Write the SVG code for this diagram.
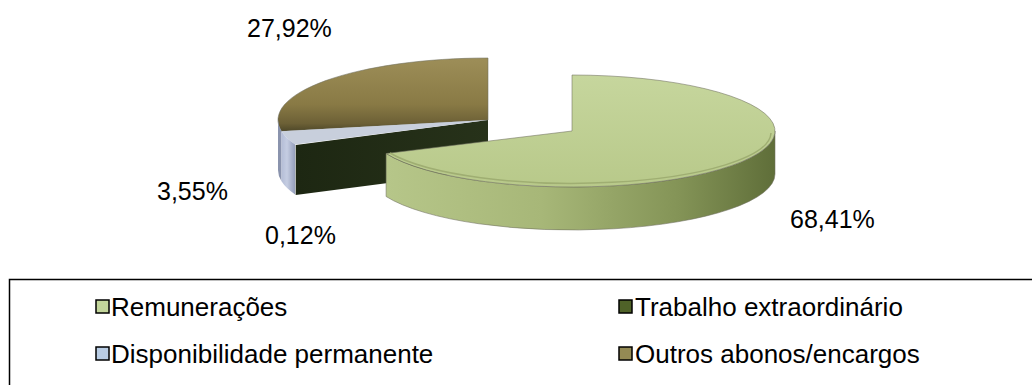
<svg xmlns="http://www.w3.org/2000/svg" width="1032" height="385" viewBox="0 0 1032 385">
<style>
.lbl{font-family:"Liberation Sans",Arial,sans-serif;font-size:25px;fill:#000}
.leg{font-family:"Liberation Sans",Arial,sans-serif;font-size:26px;fill:#000}
.sw{stroke:#000;stroke-width:1.5}
.edge{stroke:#6f6f60;stroke-width:0.8;stroke-opacity:0.7}
</style>
<defs>
<linearGradient id="gTop" x1="0" y1="0" x2="0" y2="1"><stop offset="0" stop-color="#c6d69d"/><stop offset="1" stop-color="#b8c98a"/></linearGradient>
<linearGradient id="gSide" gradientUnits="userSpaceOnUse" x1="386" y1="0" x2="775" y2="0"><stop offset="0" stop-color="#b6c689"/><stop offset="0.4" stop-color="#a7b778"/><stop offset="0.75" stop-color="#849457"/><stop offset="1" stop-color="#5f6e39"/></linearGradient>
<linearGradient id="bTop" gradientUnits="userSpaceOnUse" x1="0" y1="58" x2="0" y2="135"><stop offset="0" stop-color="#9d8e58"/><stop offset="0.6" stop-color="#897a45"/><stop offset="0.85" stop-color="#6c6036"/><stop offset="1" stop-color="#403c22"/></linearGradient>
<linearGradient id="dFace" x1="0" y1="0" x2="1" y2="0"><stop offset="0" stop-color="#1d2712"/><stop offset="1" stop-color="#27321a"/></linearGradient>
<linearGradient id="blSide" gradientUnits="userSpaceOnUse" x1="278" y1="0" x2="296" y2="0"><stop offset="0" stop-color="#a9b3cf"/><stop offset="0.5" stop-color="#c5cde2"/><stop offset="1" stop-color="#8f99b6"/></linearGradient>
</defs>
<g id="pie-others">
<path id="slice-outros-top" d="M488,120 L281.5,131.3 A210,62 0 0,1 488,58 Z" fill="url(#bTop)" class="edge"/>
<path id="slice-outros-side" d="M281.5,131.3 A210,62 0 0,1 278,120 L278,170 A210,62 0 0,0 281.5,181.3 Z" fill="#8a93ad"/>
<path id="slice-trabalho-face" d="M488,120 L295.7,144.9 L295.7,194.9 L488,170 Z" fill="url(#dFace)"/>
<path id="slice-disp-top" d="M488,120 L295.1,144.5 A210,62 0 0,1 281.5,131.3 Z" fill="#c8cfdc"/>
<path id="slice-disp-side" d="M295.1,144.5 A210,62 0 0,1 281.5,131.3 L281.5,181.3 A210,62 0 0,0 295.1,194.5 Z" fill="url(#blSide)"/>
</g>
<g id="slice-remuneracoes">
<path d="M775,131 A203,56 0 0,1 386.1,153.5 L386.1,196.5 A203,56 0 0,0 775,174 Z" fill="url(#gSide)" class="edge"/>
<path d="M572,131 L572,75 A203,56 0 1,1 386.1,153.5 Z" fill="url(#gTop)" class="edge"/>
<path d="M390,153 A199,51 0 0,0 771,133" fill="none" stroke="#9fae72" stroke-width="1.5"/>
</g>
<g id="labels">
<text class="lbl" x="247" y="37">27,92%</text>
<text class="lbl" x="157" y="200">3,55%</text>
<text class="lbl" x="265" y="244">0,12%</text>
<text class="lbl" x="790" y="228">68,41%</text>
</g>
<g id="legend">
<rect x="9.5" y="279.5" width="1100" height="200" fill="none" stroke="#000" stroke-width="1.5"/>
<rect class="sw" x="96" y="300" width="13" height="13" fill="#c3d69b"/>
<text class="leg" x="111" y="316">Remunerações</text>
<rect class="sw" x="96" y="347" width="13" height="13" fill="#b9cde5"/>
<text class="leg" x="111" y="363">Disponibilidade permanente</text>
<rect class="sw" x="619" y="300" width="13" height="13" fill="#4f6228"/>
<text class="leg" x="635" y="316">Trabalho extraordinário</text>
<rect class="sw" x="619" y="347" width="13" height="13" fill="#948a54"/>
<text class="leg" x="635" y="363">Outros abonos/encargos</text>
</g>
</svg>
